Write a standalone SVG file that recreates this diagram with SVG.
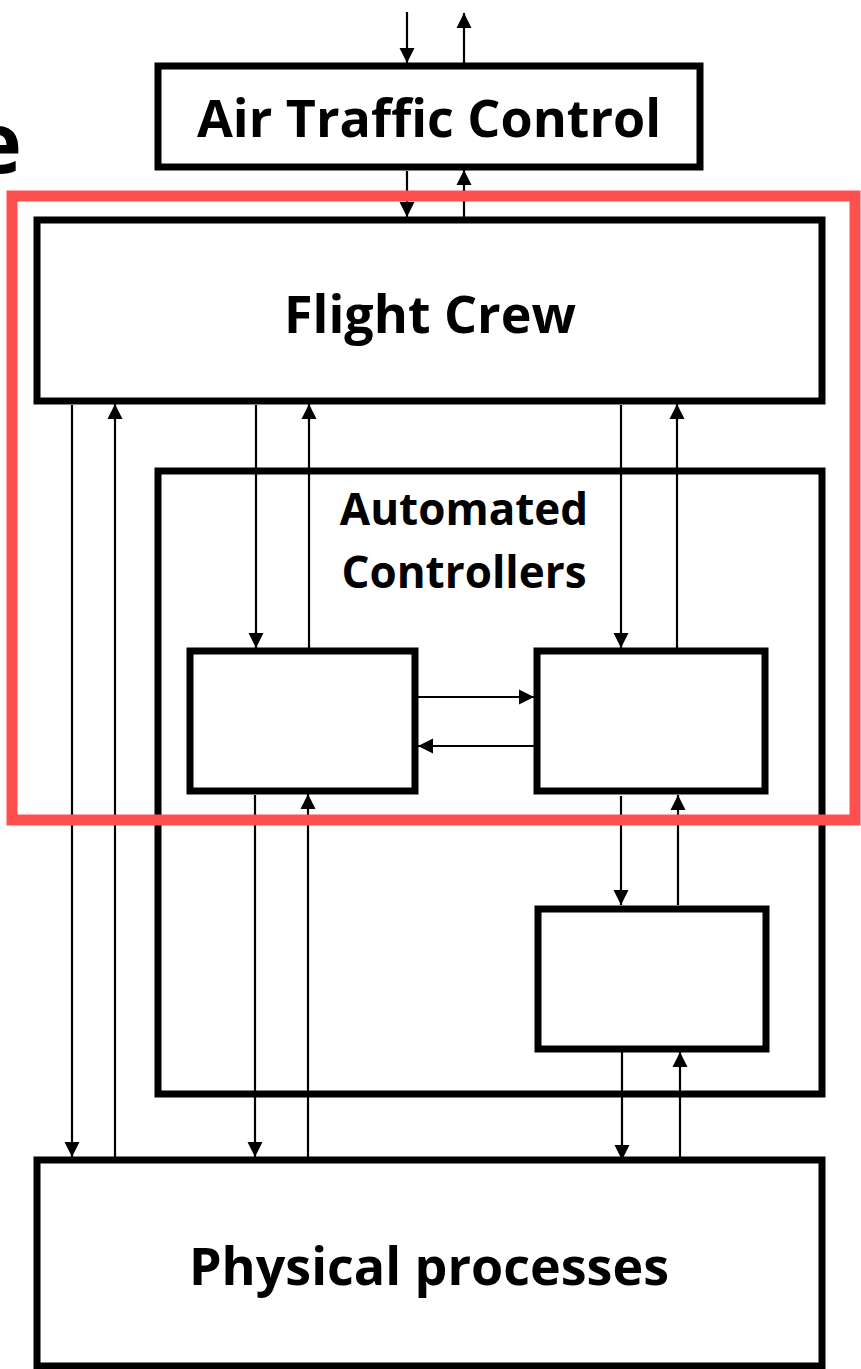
<svg xmlns="http://www.w3.org/2000/svg" width="861" height="1369" viewBox="0 0 861 1369">
<defs>
<style>
.box{fill:#fff;stroke:#000;stroke-width:7}
.hl{fill:none;stroke:#FF5050;stroke-width:11}
.ln{stroke:#000;stroke-width:2.2;fill:none;marker-end:url(#ah)}
.t{font-family:"Open Sans","Liberation Sans",sans-serif;font-weight:bold;fill:#000;text-anchor:middle}
</style>
<marker id="ah" viewBox="0 0 10 10" refX="10" refY="5" markerWidth="7" markerHeight="7" markerUnits="strokeWidth" orient="auto">
<path d="M0,0 L10,5 L0,10 z" fill="#000"/>
</marker>
</defs>
<text x="22" y="173" class="t" style="text-anchor:end;font-size:84px">e</text>
<g id="atc">
<rect class="box" x="158" y="66" width="542" height="101"/>
<text class="t" x="429" y="137" font-size="52">Air Traffic Control</text>
</g>
<g id="flight-crew">
<rect class="box" x="37" y="220" width="785" height="181"/>
<text class="t" x="430" y="333" font-size="52">Flight Crew</text>
</g>
<g id="automated-controllers">
<rect class="box" x="158" y="471" width="664" height="623"/>
<text class="t" x="464" y="525" font-size="44">Automated</text>
<text class="t" x="464" y="588" font-size="44">Controllers</text>
</g>
<g id="controller-a"><rect class="box" x="190" y="651" width="225" height="140"/></g>
<g id="controller-b"><rect class="box" x="537" y="651" width="228" height="140"/></g>
<g id="controller-c"><rect class="box" x="538" y="909" width="228" height="140"/></g>
<g id="physical">
<rect class="box" x="37" y="1160" width="785" height="206"/>
<text class="t" x="429" y="1285" font-size="52">Physical processes</text>
</g>
<g id="connectors">
<line class="ln" x1="407" y1="12" x2="407" y2="63"/>
<line class="ln" x1="464" y1="63" x2="464" y2="13"/>
<line class="ln" x1="407" y1="171" x2="407" y2="217"/>
<line class="ln" x1="464" y1="217" x2="464" y2="170"/>
<line class="ln" x1="72" y1="405" x2="72" y2="1157"/>
<line class="ln" x1="115" y1="1157" x2="115" y2="404"/>
<line class="ln" x1="256" y1="405" x2="256" y2="648"/>
<line class="ln" x1="309" y1="648" x2="309" y2="404"/>
<line class="ln" x1="621" y1="405" x2="621" y2="648"/>
<line class="ln" x1="677" y1="648" x2="677" y2="404"/>
<line class="ln" x1="418" y1="697" x2="534" y2="697"/>
<line class="ln" x1="534" y1="746" x2="418" y2="746"/>
<line class="ln" x1="255" y1="795" x2="255" y2="1157"/>
<line class="ln" x1="308" y1="1157" x2="308" y2="794"/>
<line class="ln" x1="621" y1="796" x2="621" y2="905"/>
<line class="ln" x1="678" y1="905" x2="678" y2="795"/>
<line class="ln" x1="622" y1="1052" x2="622" y2="1160"/>
<line class="ln" x1="680" y1="1160" x2="680" y2="1052"/>
</g>
<rect class="hl" x="12" y="196" width="843" height="624"/>
</svg>
